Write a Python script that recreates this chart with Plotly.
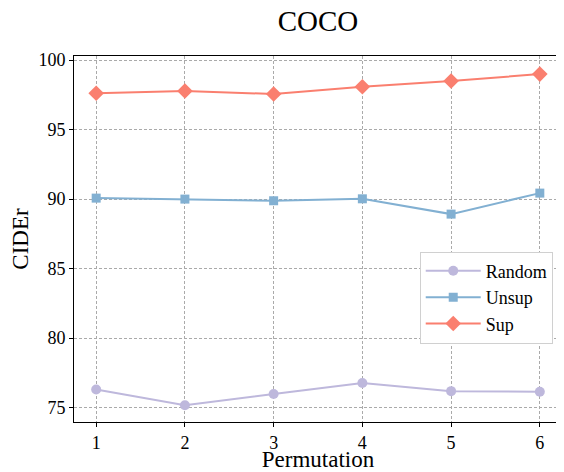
import plotly.graph_objects as go

# permutation index on the x axis
permutation = [1, 2, 3, 4, 5, 6]

# CIDEr scores
random_cider = [76.31, 75.17, 75.98, 76.77, 76.19, 76.15]
unsup_cider = [90.07, 90.00, 89.88, 90.02, 88.92, 90.43]
sup_cider = [97.61, 97.77, 97.56, 98.08, 98.49, 98.99]

x_ticks = [1, 2, 3, 4, 5, 6]
y_ticks = [75, 80, 85, 90, 95, 100]

FONT = 'Liberation Serif'

series = [
	('Random', random_cider, '#BEB8DC', 'circle', 10),
	('Unsup', unsup_cider, '#82B0D2', 'square', 9),
	('Sup', sup_cider, '#FA7F6F', 'diamond', 12),
]

fig = go.Figure()
for name, vals, color, symbol, size in series:
	fig.add_trace(go.Scatter(
		x=permutation, y=vals, mode='lines+markers', name=name,
		line=dict(color=color, width=2),
		marker=dict(color=color, symbol=symbol, size=size),
	))

# the page body adds 8px around the figure, so the figure is a bit smaller
fig.update_layout(
	width=556, height=464,
	paper_bgcolor='white', plot_bgcolor='white',
	margin=dict(l=66, r=2, t=48, b=50),
	font=dict(family=FONT, color='black', size=18),
	title=dict(text='COCO', xref='paper', x=0.5, xanchor='center', y=0.972, yanchor='middle',
			   font=dict(family=FONT, size=29, color='black')),
	legend=dict(
		x=0.981, y=0.34, xanchor='right', yanchor='middle',
		bgcolor='white', bordercolor='#d0d0d0', borderwidth=1,
		font=dict(family=FONT, size=18, color='black'),
		itemwidth=55, tracegroupgap=0,
	),
	showlegend=True,
)

axis_style = dict(
	showline=True, linecolor='black', linewidth=1, mirror=True,
	ticks='outside', ticklen=4, tickcolor='black',
	tickfont=dict(family=FONT, size=18, color='black'),
	showgrid=True, gridcolor='#aaaaaa', gridwidth=0.8, griddash='3px,2px',
	zeroline=False, automargin=False,
)
fig.update_xaxes(
	range=[0.75, 6.25], tickvals=x_ticks,
	title=dict(text='Permutation', font=dict(family=FONT, size=23), standoff=0),
	**axis_style,
)
fig.update_yaxes(
	range=[73.97, 100.29], tickvals=y_ticks,
	title=dict(text='CIDEr', font=dict(family=FONT, size=23), standoff=6),
	**axis_style,
)

fig.write_html('out.html')
